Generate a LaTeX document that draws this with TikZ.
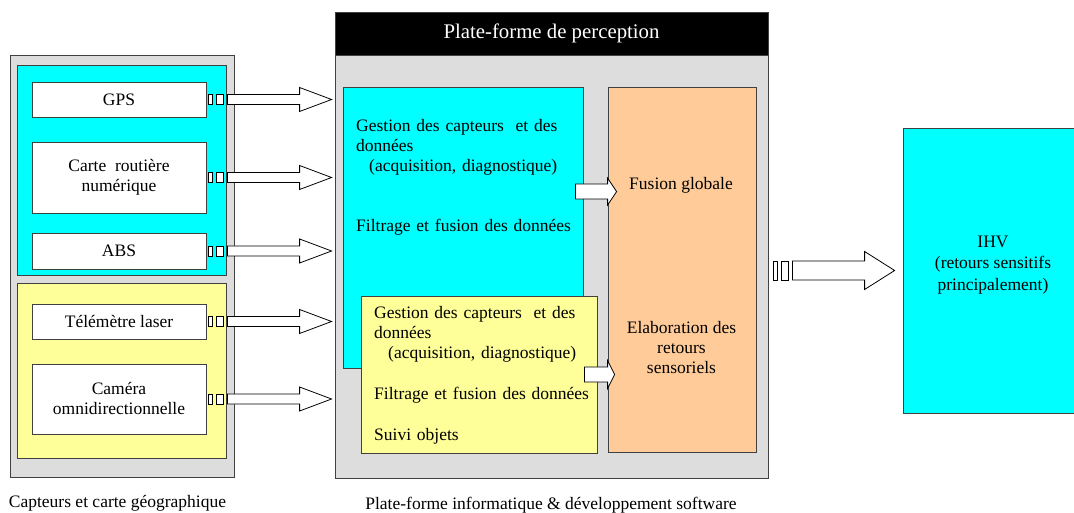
\documentclass[tikz,border=0pt]{standalone}
\usepackage{fontspec}
\setmainfont{Liberation Serif}
\usepackage{tikz}
\usetikzlibrary{calc}
\definecolor{capcyan}{HTML}{00FFFF}
\definecolor{capyellow}{HTML}{FFFF99}
\definecolor{fusorange}{HTML}{FFCC99}
\definecolor{platgray}{HTML}{DDDDDD}

% wide hollow arrow: start, tip, shaft half height, head half height, head length
\newcommand{\blockarrow}[5]{%
  \draw[blockarr] let \p1=(#1), \p2=(#2) in
    (\x1,{\y1+#3pt}) -- ({\x2-#5pt},{\y1+#3pt}) -- ({\x2-#5pt},{\y1+#4pt})
    -- (\x2,\y1) -- ({\x2-#5pt},{\y1-#4pt}) -- ({\x2-#5pt},{\y1-#3pt})
    -- (\x1,{\y1-#3pt}) -- cycle;}
% the two little connector plugs on a box side
\newcommand{\plugs}[3]{%
  \draw[plug] ($(#1)+(#2pt,#3pt)$) rectangle ($(#1)+(#2pt+4pt,-#3pt)$);
  \draw[plug] ($(#1)+(#2pt+8pt,#3pt)$) rectangle ($(#1)+(#2pt+15pt,-#3pt)$);}

\begin{document}
\begin{tikzpicture}[x=1pt,y=-1pt,
          every node/.style={font=\fontsize{17.5}{20}\selectfont},
          panel/.style={draw=black!75,line width=0.8pt,fill=platgray,inner sep=0},
          zone/.style={draw=black!75,line width=0.8pt,inner sep=0},
          sensor/.style={draw=black!75,line width=0.8pt,fill=white,align=center,
                         minimum width=174pt,inner sep=0},
          para/.style={anchor=north west,align=left,inner sep=0,text width=235pt},
          plug/.style={draw=black,line width=0.8pt,fill=white},
          blockarr/.style={draw=black,line width=0.8pt,fill=white},
      ]
        \useasboundingbox (0,0) rectangle (1074,513);

        % sensors
        \node[panel,minimum width=224pt,minimum height=422pt] (capt) at (122,266) {};
        \node[zone,fill=capcyan,minimum width=209pt,minimum height=210pt] (captA) at (121.5,170) {};
        \node[zone,fill=capyellow,minimum width=209pt,minimum height=175pt] (captB) at (121.5,370.5) {};

        \node[sensor,minimum height=35pt] (gps) at (119,99.5) {GPS};
        \node[sensor,minimum height=71pt] (carte) at (119,177.5) {Carte\ \ routière\\numérique};
        \node[sensor,minimum height=36pt] (abs) at (119,251) {ABS};
        \node[sensor,minimum height=35pt] (laser) at (119,321.5) {Télémètre laser};
        \node[sensor,minimum height=70pt] (camera) at (119,399) {Caméra\\omnidirectionnelle};

        \node (captlabel) at (117.5,503) {Capteurs et carte géographique};

        % perception platform
        \node[panel,minimum width=433pt,minimum height=423pt] (plat) at (551.5,266.5) {};
        \node[zone,fill=black,minimum width=433pt,minimum height=43pt,
              text=white,font=\fontsize{20.8}{24}\selectfont] (head) at (551.5,33.5)
          {Plate-forme de perception};
        \node[zone,fill=capcyan,minimum width=240pt,minimum height=281pt] (gestA) at (463,227.5) {};
        \node[zone,fill=fusorange,minimum width=148pt,minimum height=365pt] (fusion) at (682,269.5) {};
        \node[zone,fill=capyellow,minimum width=236pt,minimum height=157pt] (gestB) at (479,374.5) {};

        \node[para] (gestAtxt) at (356,119)
          {\makebox[213pt][s]{Gestion des capteurs\ \ et des}\\
           données\\
           \hspace*{13pt}(acquisition, diagnostique)\\[40pt]
           Filtrage et fusion des données};
        \node[para] (gestBtxt) at (374,306)
          {\makebox[209pt][s]{Gestion des capteurs\ \ et des}\\
           données\\
           \hspace*{14pt}(acquisition, diagnostique)\\[21pt]
           Filtrage et fusion des données\\[21pt]
           Suivi objets};
        \node (fusglob) at (681,185) {Fusion globale};
        \node[align=center] (elab) at (681.5,348) {Elaboration des\\retours\\sensoriels};

        \node (platlabel) at (551,505) {Plate-forme informatique \& développement software};

        % HMI
        \node[zone,fill=capcyan,minimum width=173pt,minimum height=285pt] (ihv) at (989.5,270.5) {};
        \node[align=center,font=\fontsize{17.5}{21.5}\selectfont] (ihvtxt) at (993,265)
          {IHV\\(retours sensitifs\\principalement)};

        % connectors
        \foreach \s in {gps,carte,abs,laser,camera}{
          \plugs{\s.east}{2}{5}
          \blockarrow{$(\s.east)+(21pt,0)$}{$(plat.west |- \s.east)+(-3pt,0)$}{5}{12}{32}
        }
        \blockarrow{$(gestA.north east)+(-8pt,-105pt)$}{$(fusion.west |- gestA.north east)+(9pt,-105pt)$}{7.5}{13.5}{9}
        \blockarrow{$(gestB.east)+(-13pt,0)$}{$(fusion.west |- gestB.east)+(7pt,0)$}{7.5}{14}{7}
        \plugs{plat.east |- ihv.west}{5}{9.5}
        \blockarrow{$(plat.east |- ihv.west)+(24pt,0)$}{$(ihv.west)+(-8pt,0)$}{9.5}{19}{30}
      \end{tikzpicture}
\end{document}
